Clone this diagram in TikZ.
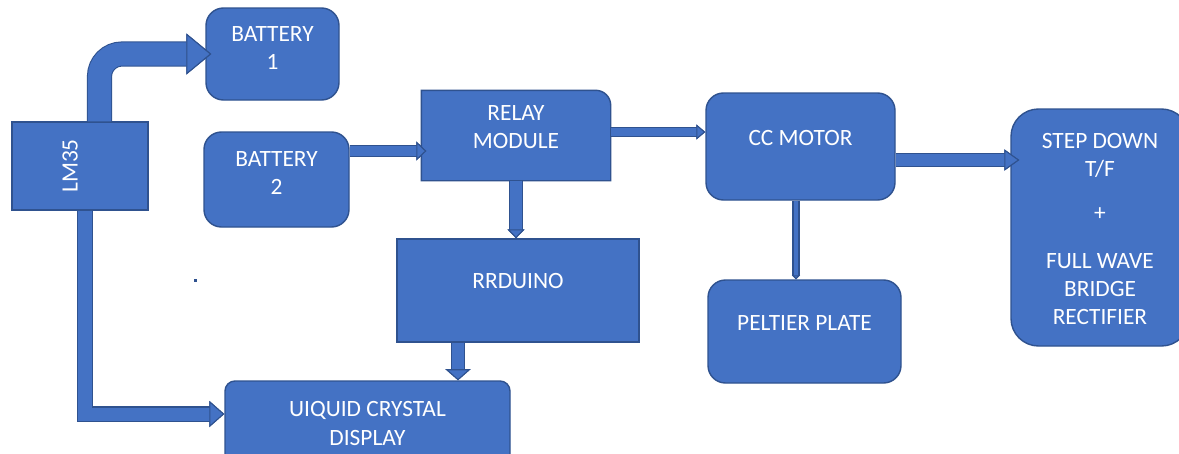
\documentclass[tikz,border=0pt]{standalone}
\usepackage{fontspec}
\setmainfont{Carlito}
\usetikzlibrary{arrows.meta,calc,backgrounds}
\definecolor{boxblue}{HTML}{4472C4}
\definecolor{boxedge}{HTML}{2F528F}
% text block moved up (or down) inside its box
\newcommand{\lift}[2]{\raisebox{#1}[\height][\depth]{\begin{tabular}{@{}c@{}}#2\end{tabular}}}

\begin{document}
\begin{tikzpicture}[
  font=\fontsize{13.3}{16}\selectfont,
  blk/.style={draw=boxedge, fill=boxblue, text=white, line width=0.8pt, align=center, inner sep=2pt},
  rblk/.style={blk, rounded corners=0.35cm},
  fat/.style n args={3}{draw=boxblue, line width=#1,
    -{Triangle[length=#3, width=#2, line width=0.6pt, fill=boxblue, color=boxedge]},
    preaction={draw=boxedge, line width=#1+1.2pt,
      -{Triangle[length=#3, width=#2, line width=0.6pt, fill=boxblue, color=boxedge]}}}
]
\useasboundingbox (0,0) rectangle (23.58,-9.06);
\clip (0,0) rectangle (23.58,-9.06);

\node[blk, minimum width=2.72cm, minimum height=1.76cm] (lm) at (1.6,-3.32) {\rotatebox{90}{\lift{0.16cm}{LM35}}};
\node[rblk, minimum width=2.66cm, minimum height=1.84cm] (bat1) at (5.45,-1.08) {\lift{0.08cm}{BATTERY\\1}};
\node[rblk, minimum width=2.9cm, minimum height=1.9cm] (bat2) at (5.53,-3.59) {\lift{0.1cm}{BATTERY\\2}};
\node[blk, draw=none, fill=none, minimum width=3.76cm, minimum height=1.78cm] (relay) at (10.32,-2.71) {\lift{0.13cm}{RELAY\\MODULE}};
\node[blk, minimum width=4.84cm, minimum height=2.06cm] (ard) at (10.36,-5.81) {\lift{0.16cm}{RRDUINO}};
\node[blk, rounded corners=0.2cm, minimum width=5.7cm, minimum height=1.7cm] (lcd) at (7.35,-8.47) {UIQUID CRYSTAL\\DISPLAY};
\node[rblk, minimum width=3.78cm, minimum height=2.14cm] (cc) at (16.01,-2.93) {\lift{0.13cm}{CC MOTOR}};
\node[rblk, minimum width=3.86cm, minimum height=2.06cm] (pelt) at (16.09,-6.63) {\lift{0.13cm}{PELTIER PLATE}};
\node[rblk, rounded corners=0.55cm, minimum width=3.56cm, minimum height=4.74cm] (sd) at (22,-4.55)
  {\lift{-0.07cm}{STEP DOWN\\T/F\\[9pt]+\\[11pt]FULL WAVE\\BRIDGE\\RECTIFIER}};

% relay box: only the top right corner is rounded
\begin{scope}[on background layer]
  \fill[white] (0,0) rectangle (23.58,-9.06);
  \filldraw[draw=boxedge, fill=boxblue, line width=0.8pt] (relay.south west) -- (relay.north west)
    -- ([xshift=-0.3cm]relay.north east) arc[start angle=90, end angle=0, radius=0.3cm]
    -- (relay.south east) -- cycle;
\end{scope}

\coordinate (b2out) at ($(bat2.east)+(0,0.57)$);
\coordinate (rout) at ($(relay.east)+(0,0.07)$);
\coordinate (aout) at ($(ard.south)+(-1.2,0)$);
\coordinate (ccdown) at ($(cc.south)+(-0.09,0)$);
\coordinate (ccout) at ($(cc.east)+(0,-0.27)$);

\draw[fat={13.1pt}{23.3pt}{14.2pt}, rounded corners=0.45cm] ($(lm.north)+(0.39,0)$) |- ($(bat1.west)+(0.12,0)$);
\draw[fat={5.7pt}{10.8pt}{5.7pt}] (b2out) -- ($(b2out -| relay.west)+(0.1,0)$);
\draw[fat={6.3pt}{9.7pt}{5.1pt}] (relay.south) -- (relay.south |- ard.north);
\draw[fat={4.6pt}{8.5pt}{5.1pt}] (rout) -- (rout -| cc.west);
\draw[fat={6.8pt}{14.2pt}{6.3pt}] (aout) -- (aout |- lcd.north);
\draw[fat={7.4pt}{14.8pt}{8.5pt}] ($(lm.south)+(0.1,0)$) |- ($(lcd.west)+(0,0.19)$);
\draw[fat={2.8pt}{4.5pt}{2.3pt}] (ccdown) -- (ccdown |- pelt.north);
\draw[fat={6.8pt}{12pt}{8.5pt}] (ccout) -- ($(ccout -| sd.west)+(0.18,0)$);

\fill[boxedge] (3.88,-5.58) rectangle (3.94,-5.64);
\end{tikzpicture}
\end{document}
